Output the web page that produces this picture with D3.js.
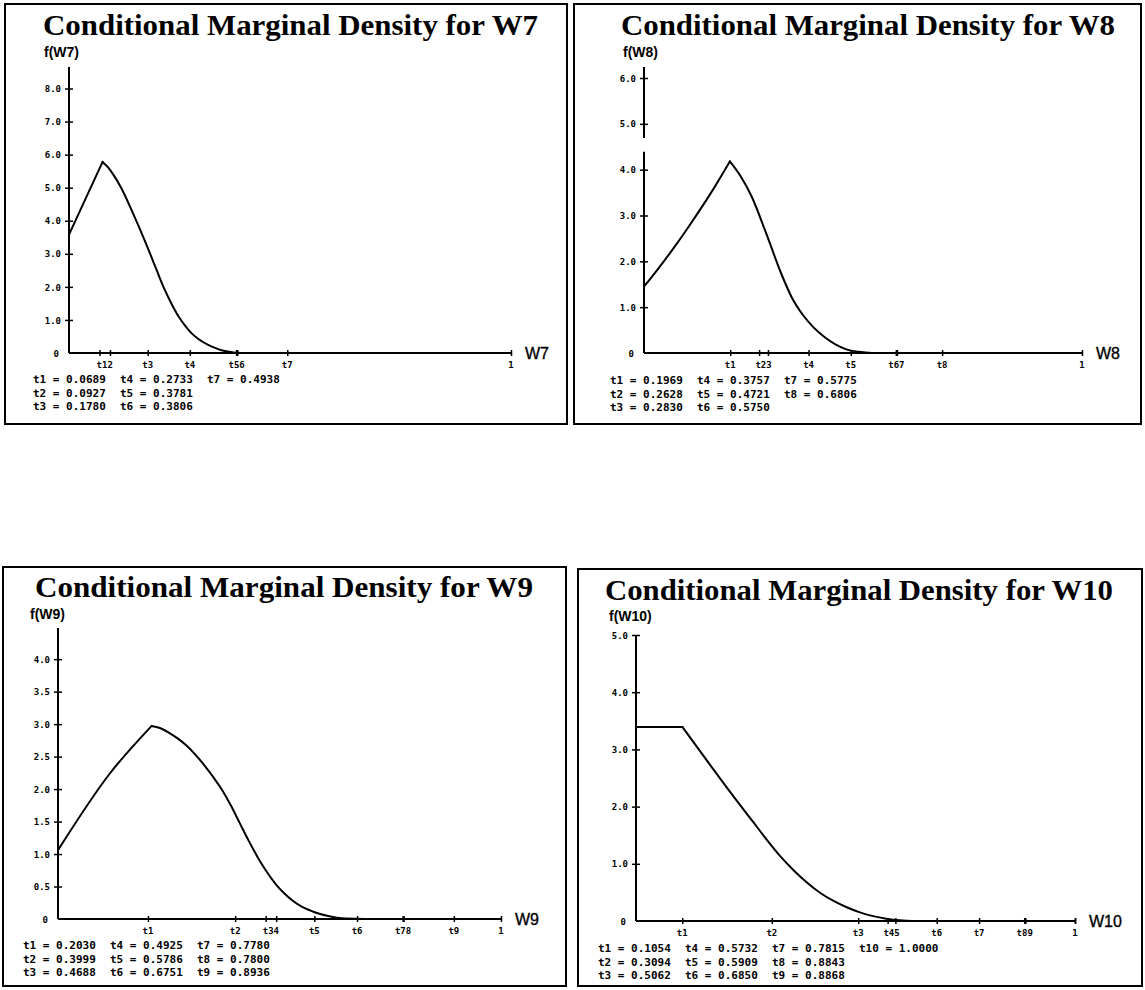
<!DOCTYPE html>
<html>
<head>
<meta charset="utf-8">
<script src="https://cdn.jsdelivr.net/npm/d3@7"></script>
<style>
  html, body { margin: 0; padding: 0; background: #fff; }
  svg { display: block; }
  .title { font-family: "Liberation Serif", "DejaVu Serif", serif; font-weight: bold; }
  .ylab { font-family: "Liberation Sans", Arial, sans-serif; font-weight: bold; font-size: 14px; }
  .tick text, .tlab { font-family: "DejaVu Sans Mono", monospace; font-weight: bold; font-size: 9px; }
  .legend { font-family: "DejaVu Sans Mono", monospace; font-weight: bold; font-size: 11px; white-space: pre; }
  .xname { font-family: "Liberation Sans", Arial, sans-serif; font-size: 16px; stroke: #000; stroke-width: 0.35px; }
</style>
</head>
<body>
<svg id="chart" width="1145" height="990"></svg>
<script>
// ---- data ---------------------------------------------------------------
const variables = ["W7", "W8", "W9", "W10"];

// knot locations t1..tn for each variable
const knotsW7  = [0.0689, 0.0927, 0.1780, 0.2733, 0.3781, 0.3806, 0.4938];
const knotsW8  = [0.1969, 0.2628, 0.2830, 0.3757, 0.4721, 0.5750, 0.5775, 0.6806];
const knotsW9  = [0.2030, 0.3999, 0.4688, 0.4925, 0.5786, 0.6751, 0.7780, 0.7800, 0.8936];
const knotsW10 = [0.1054, 0.3094, 0.5062, 0.5732, 0.5909, 0.6850, 0.7815, 0.8843, 0.8868, 1.0000];

// knots whose axis labels run together (1-based indices)
const labelGroupsW7  = [[1, 2], [3], [4], [5, 6], [7]];
const labelGroupsW8  = [[1], [2, 3], [4], [5], [6, 7], [8]];
const labelGroupsW9  = [[1], [2], [3, 4], [5], [6], [7, 8], [9]];
const labelGroupsW10 = [[1], [2], [3], [4, 5], [6], [7], [8, 9]];

// conditional marginal density f(w) sampled along w
const densityW7 = [[0, 3.58], [0.076, 5.78], [0.088, 5.62], [0.101, 5.38], [0.117, 5.02], [0.134, 4.55],
  [0.158, 3.82], [0.183, 3.02], [0.200, 2.45], [0.216, 1.93], [0.233, 1.46], [0.249, 1.08], [0.263, 0.82],
  [0.277, 0.60], [0.292, 0.43], [0.306, 0.31], [0.322, 0.20], [0.339, 0.11], [0.355, 0.05], [0.372, 0.015],
  [0.390, 0], [1, 0]];
const densityW8 = [[0, 1.45], [0.030, 1.81], [0.070, 2.32], [0.110, 2.87], [0.150, 3.45], [0.196, 4.18],
  [0.221, 3.85], [0.246, 3.41], [0.279, 2.61], [0.313, 1.74], [0.338, 1.20], [0.362, 0.84], [0.387, 0.56],
  [0.412, 0.35], [0.437, 0.19], [0.462, 0.08], [0.490, 0.025], [0.520, 0], [1, 0]];
const densityW9 = [[0, 1.06], [0.117, 2.24], [0.211, 2.97], [0.230, 2.94], [0.250, 2.87], [0.270, 2.78],
  [0.290, 2.67], [0.310, 2.53], [0.330, 2.37], [0.350, 2.19], [0.370, 1.99], [0.390, 1.75], [0.410, 1.48],
  [0.430, 1.21], [0.450, 0.96], [0.470, 0.74], [0.490, 0.55], [0.510, 0.40], [0.530, 0.28], [0.550, 0.19],
  [0.570, 0.13], [0.590, 0.08], [0.610, 0.045], [0.630, 0.02], [0.650, 0.007], [0.690, 0], [1, 0]];
const densityW10 = [[0, 3.39], [0.106, 3.39], [0.160, 2.82], [0.216, 2.24], [0.266, 1.74], [0.300, 1.40],
  [0.330, 1.12], [0.360, 0.88], [0.390, 0.67], [0.420, 0.49], [0.450, 0.35], [0.480, 0.24], [0.510, 0.15],
  [0.540, 0.085], [0.570, 0.04], [0.600, 0.012], [0.630, 0], [1, 0]];

// y-axis tick values
const yTicksW7  = [0, 1, 2, 3, 4, 5, 6, 7, 8];
const yTicksW8  = [0, 1, 2, 3, 4, 5, 6];
const yTicksW9  = [0, 0.5, 1, 1.5, 2, 2.5, 3, 3.5, 4];
const yTicksW10 = [0, 1, 2, 3, 4, 5];

// top of each y axis (in density units)
const yMaxes = [8.65, 6.24, 4.48, 5.0];

const panelsData = [
  { name: variables[0], knots: knotsW7,  groups: labelGroupsW7,  density: densityW7,  yTicks: yTicksW7,  yMax: yMaxes[0] },
  { name: variables[1], knots: knotsW8,  groups: labelGroupsW8,  density: densityW8,  yTicks: yTicksW8,  yMax: yMaxes[1], gap: [4.39, 4.69] },
  { name: variables[2], knots: knotsW9,  groups: labelGroupsW9,  density: densityW9,  yTicks: yTicksW9,  yMax: yMaxes[2] },
  { name: variables[3], knots: knotsW10, groups: labelGroupsW10, density: densityW10, yTicks: yTicksW10, yMax: yMaxes[3] }
];

// ---- layout -------------------------------------------------------------
const layout = [
  { box: [5, 4, 567, 424],      title: [43, 35, 495],  ylab: [44, 57],  x0: 69,  x1: 511,  y0: 353, yTop: 67,  xlabY: 368, legX: 33,  legY: 383 },
  { box: [574, 4, 1141, 424],   title: [621, 35, 494], ylab: [623, 57], x0: 644, x1: 1082, y0: 353, yTop: 67,  xlabY: 368, legX: 610, legY: 384 },
  { box: [3, 567, 566, 986],    title: [35, 597, 498], ylab: [30, 619], x0: 58,  x1: 501,  y0: 919, yTop: 628, xlabY: 934, legX: 23,  legY: 949 },
  { box: [578, 569, 1142, 986], title: [605, 600, 508],ylab: [609, 621],x0: 636, x1: 1075, y0: 921, yTop: 635, xlabY: 936, legX: 598, legY: 952 }
];

const svg = d3.select("#chart");

panelsData.forEach((p, i) => {
  const L = layout[i];
  const g = svg.append("g");

  // frame
  g.append("rect")
    .attr("x", L.box[0]).attr("y", L.box[1])
    .attr("width", L.box[2] - L.box[0]).attr("height", L.box[3] - L.box[1])
    .attr("fill", "none").attr("stroke", "#000").attr("stroke-width", 2);

  // title
  g.append("text").attr("class", "title")
    .attr("x", L.title[0]).attr("y", L.title[1])
    .attr("font-size", 29)
    .attr("textLength", L.title[2]).attr("lengthAdjust", "spacingAndGlyphs")
    .text("Conditional Marginal Density for " + p.name);

  // y-axis caption
  g.append("text").attr("class", "ylab")
    .attr("x", L.ylab[0]).attr("y", L.ylab[1])
    .text("f(" + p.name + ")");

  const x = d3.scaleLinear().domain([0, 1]).range([L.x0, L.x1]);
  const y = d3.scaleLinear().domain([0, p.yMax]).range([L.y0, L.yTop]);

  // y axis line (optionally broken)
  const segs = p.gap ? [[0, p.gap[0]], [p.gap[1], p.yMax]] : [[0, p.yMax]];
  segs.forEach(s => {
    g.append("line")
      .attr("x1", x(0)).attr("x2", x(0))
      .attr("y1", y(s[0])).attr("y2", y(s[1]))
      .attr("stroke", "#000").attr("stroke-width", 2);
  });

  // y ticks and labels
  const yAxis = d3.axisLeft(y)
    .tickValues(p.yTicks)
    .tickSize(4)
    .tickPadding(4)
    .tickFormat(v => v === 0 ? "0" : d3.format(".1f")(v));
  const ya = g.append("g").attr("transform", `translate(${x(0)},0)`).call(yAxis);
  ya.select(".domain").remove();
  ya.selectAll(".tick line").attr("x1", 4).attr("x2", -4).attr("stroke-width", 1.5);
  ya.selectAll(".tick text").attr("dy", "0.35em").attr("fill", "#000");
  ya.selectAll(".tick").filter(v => v === 0).select("line").remove();
  ya.selectAll(".tick").filter(v => v === 0).select("text").attr("x", -10);

  // x axis line
  g.append("line")
    .attr("x1", x(0)).attr("x2", x(1))
    .attr("y1", y(0)).attr("y2", y(0))
    .attr("stroke", "#000").attr("stroke-width", 2);

  // x ticks at the knots and at 1
  const xAxis = d3.axisBottom(x)
    .tickValues(p.knots.concat([1]))
    .tickSize(3)
    .tickFormat("");
  const xa = g.append("g").attr("transform", `translate(0,${y(0)})`).call(xAxis);
  xa.select(".domain").remove();
  xa.selectAll(".tick line").attr("y1", -3).attr("y2", 3).attr("stroke-width", 1.5);

  // knot labels beneath the axis
  p.groups.forEach(gr => {
    const pos = d3.mean(gr, k => p.knots[k - 1]);
    g.append("text").attr("class", "tlab")
      .attr("x", x(pos)).attr("y", L.xlabY)
      .attr("text-anchor", "middle")
      .text("t" + gr.join(""));
  });
  g.append("text").attr("class", "tlab")
    .attr("x", x(1)).attr("y", L.xlabY)
    .attr("text-anchor", "middle")
    .text("1");

  // axis name
  g.append("text").attr("class", "xname")
    .attr("x", x(1) + 14).attr("y", y(0) + 6)
    .text(p.name);

  // density curve: smooth rising part up to the (last) maximum, then a
  // separate smooth falling part so the corner at the mode stays sharp
  const maxVal = d3.max(p.density, d => d[1]);
  let peak = 0;
  p.density.forEach((d, k) => { if (d[1] === maxVal) peak = k; });
  const line = d3.line()
    .x(d => x(d[0]))
    .y(d => y(d[1]))
    .curve(d3.curveMonotoneX);
  [p.density.slice(0, peak + 1), p.density.slice(peak)].forEach(part => {
    g.append("path")
      .datum(part)
      .attr("d", line)
      .attr("fill", "none")
      .attr("stroke", "#000")
      .attr("stroke-width", 2)
      .attr("stroke-linejoin", "round")
      .attr("stroke-linecap", "round");
  });

  // knot value listing, three rows
  const fmt = d3.format(".4f");
  const colW = 87;
  p.knots.forEach((v, k) => {
    const row = k % 3, col = Math.floor(k / 3);
    g.append("text").attr("class", "legend")
      .attr("x", L.legX + col * colW)
      .attr("y", L.legY + row * 13.5)
      .text("t" + (k + 1) + " = " + fmt(v));
  });
});
</script>
</body>
</html>
